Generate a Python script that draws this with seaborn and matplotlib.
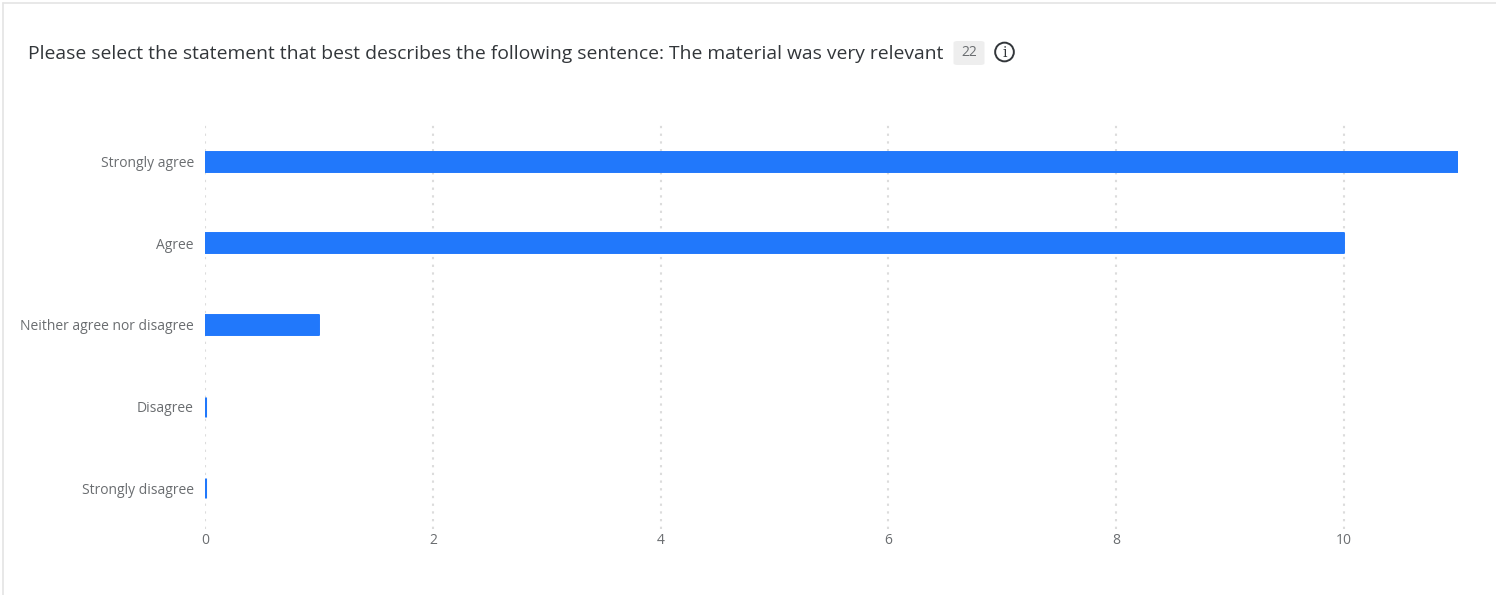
import matplotlib
matplotlib.use("Agg")
import matplotlib.pyplot as plt
import seaborn as sns
import pandas as pd
from matplotlib.patches import FancyBboxPatch, Circle
from matplotlib.lines import Line2D

categories = ["Strongly agree", "Agree", "Neither agree nor disagree", "Disagree", "Strongly disagree"]
counts = [11, 10, 1, 0, 0]
x_ticks = [0, 2, 4, 6, 8, 10]
title = "Please select the statement that best describes the following sentence: The material was very relevant"
n_responses = "22"

sns.set_theme(style="white")
plt.rcParams["font.family"] = ["Open Sans", "DejaVu Sans"]

BLUE = "#2178fb"
TXT = "#6a6d70"

W, H = 1496, 595
fig = plt.figure(figsize=(W / 100, H / 100), dpi=100)
fig.patch.set_facecolor("white")

# card border (top and left)
fig.add_artist(Line2D([3 / W, 1], [1 - 3 / H, 1 - 3 / H], color="#e4e4e4", lw=1.2))
fig.add_artist(Line2D([3 / W, 3 / W], [0, 1 - 3 / H], color="#e4e4e4", lw=1.2))

ax = fig.add_axes([205 / W, 1 - 529 / H, (1458 - 205) / W, (529 - 121) / H])
df = pd.DataFrame({"category": categories, "count": counts})
sns.barplot(data=df, y="category", x="count", orient="h", color=BLUE, width=0.245,
            saturation=1, ax=ax, edgecolor=BLUE, linewidth=1.4, zorder=3)
for p in ax.patches:
    p.set_joinstyle("round")
    if p.get_width() == 0:
        p.set_linewidth(2.2)

ax.set_xlim(0, 11)
ax.set_ylim(4.5, -0.5)
ax.set_xticks(x_ticks)
ax.set_xticklabels([str(t) for t in x_ticks])
ax.set_xlabel("")
ax.set_ylabel("")
for s in ax.spines.values():
    s.set_visible(False)
ax.grid(axis="x", color="#dcdcdc", linestyle=(0, (1.1, 2.6)), linewidth=1.5, zorder=0)
ax.grid(axis="y", visible=False)
ax.tick_params(axis="both", length=0, labelsize=10, colors=TXT)
ax.tick_params(axis="y", pad=8)
ax.tick_params(axis="x", pad=3)

# title
t = fig.text(28 / W, 1 - 54 / H, title, fontsize=13.9, color="#32363a", va="center", ha="left")
fig.canvas.draw()
r = fig.canvas.get_renderer()
bb = t.get_window_extent(renderer=r)
x0 = bb.x1 + 10
bx = FancyBboxPatch((x0 / W, 1 - 65 / H), 31 / W, 24 / H,
                    boxstyle="round,pad=0,rounding_size=0.003", transform=fig.transFigure,
                    facecolor="#eeeeee", edgecolor="none")
fig.add_artist(bx)
fig.text((x0 + 15.5) / W, 1 - 53 / H, n_responses, fontsize=10, color=TXT, ha="center", va="center")
cx = x0 + 51
ax_icon = fig.add_axes([(cx - 11) / W, 1 - 63 / H, 22 / W, 22 / H])
ax_icon.set_xlim(-1, 1); ax_icon.set_ylim(-1, 1); ax_icon.axis("off")
ax_icon.add_patch(Circle((0, 0), 0.85, fill=False, edgecolor="#32363a", lw=1.4))
ax_icon.text(0, -0.05, "i", fontsize=10, color="#32363a", ha="center", va="center", family="DejaVu Serif")

fig.savefig("out.png", dpi=100, facecolor="white")
